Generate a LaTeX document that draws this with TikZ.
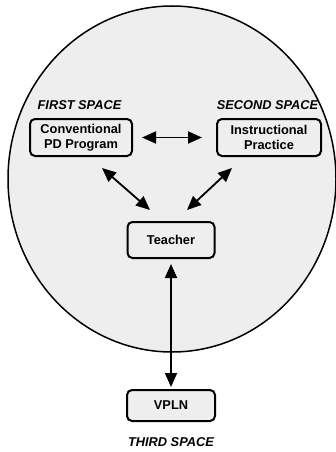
\documentclass[tikz,border=0pt]{standalone}
\usepackage{fontspec}
\setmainfont{Liberation Sans}
\usepackage{tikz}
\usetikzlibrary{arrows.meta,positioning,calc}
\definecolor{spacefill}{RGB}{238,238,238}

\begin{document}
\begin{tikzpicture}[x=1pt, y=-1pt,
    spacebox/.style={draw, line width=2pt, rounded corners=5pt, fill=spacefill,
        font=\fontsize{12.8}{15}\selectfont\bfseries, align=center, inner sep=0pt},
    spacelabel/.style={font=\fontsize{12.8}{15}\selectfont\bfseries\itshape},
    link/.style={line width=1.8pt, {Triangle[length=14pt,width=12pt]}-{Triangle[length=14pt,width=12pt]}}]
    \useasboundingbox (0,0) rectangle (336,452);

    % Outer circle
    \draw[fill=spacefill, line width=1.5pt] (172,179) ellipse [x radius=164, y radius=173];

    % Boxes
    \node[spacebox, minimum width=102pt, minimum height=37pt] (conv) at (81,137.5) {Conventional\\PD Program};
    \node[spacebox, minimum width=104pt, minimum height=37pt] (instr) at (269,137.5) {Instructional\\Practice};
    \node[spacebox, minimum width=87pt, minimum height=36pt] (teacher) at (171,240) {Teacher};
    \node[spacebox, minimum width=88pt, minimum height=31pt] (vpln) at (171,405.5) {VPLN};

    % Space labels
    \node[spacelabel] (first) at (79.5,105) {FIRST SPACE};
    \node[spacelabel] (second) at (267.5,105) {SECOND SPACE};
    \node[spacelabel] (third) at (171,442) {THIRD SPACE};

    % Arrows
    \draw[link, shorten <=9pt, shorten >=14pt] (conv.east) -- (instr.west);
    \draw[link] ([xshift=21pt,yshift=-11pt]conv.south) -- ([xshift=-21pt,yshift=11pt]teacher.north);
    \draw[link] ([xshift=-37pt,yshift=-11pt]instr.south) -- ([xshift=16pt,yshift=11pt]teacher.north);
    \draw[link, shorten <=5pt, shorten >=2pt] (teacher.south) -- (vpln.north);
\end{tikzpicture}
\end{document}
